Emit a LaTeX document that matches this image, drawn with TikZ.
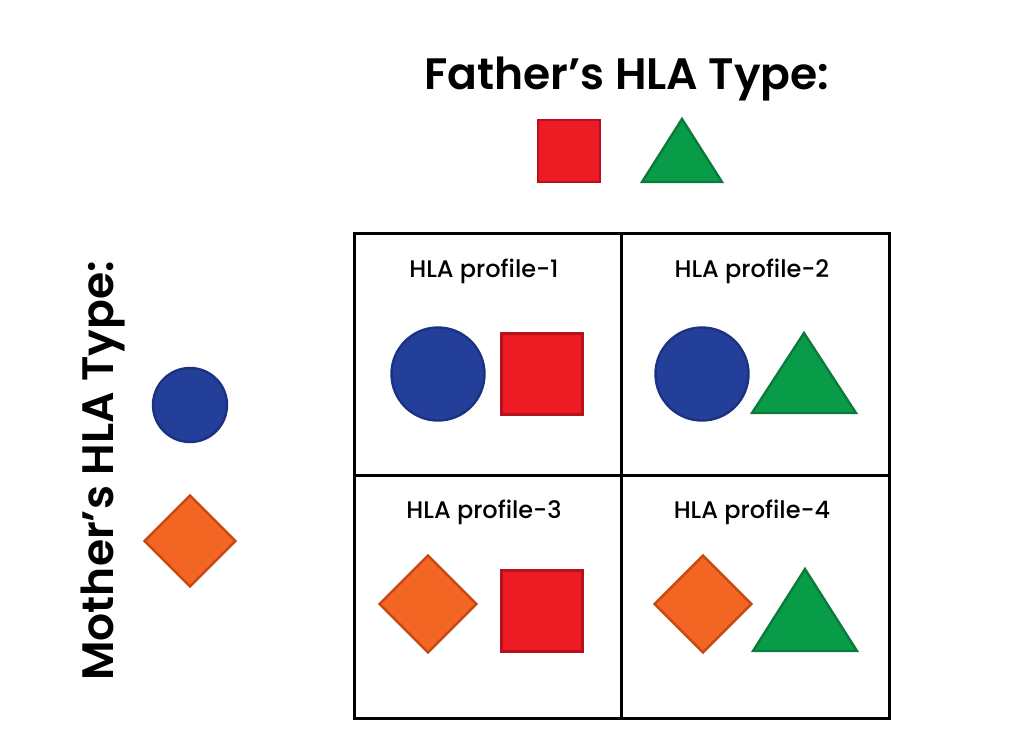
\documentclass[tikz,border=0pt]{standalone}
\usepackage{fontspec}
\setmainfont{Poppins}
\newfontfamily\hlasemibold{Poppins SemiBold}
\newfontfamily\hlamedium{Poppins Medium}
\usetikzlibrary{shapes.geometric}

\definecolor{hlablue}{HTML}{233F99}
\definecolor{hlablueline}{HTML}{1B3282}
\definecolor{hlared}{HTML}{ED1C24}
\definecolor{hlaredline}{HTML}{B5121B}
\definecolor{hlagreen}{HTML}{089C48}
\definecolor{hlagreenline}{HTML}{0B7A3A}
\definecolor{hlaorange}{HTML}{F26522}
\definecolor{hlaorangeline}{HTML}{C8460F}

\tikzset{
    ablue/.style={circle, fill=hlablue, draw=hlablueline, line width=1.2pt, inner sep=0pt},
    ared/.style={rectangle, fill=hlared, draw=hlaredline, line width=1.2pt, inner sep=0pt},
    agreen/.style={fill=hlagreen, draw=hlagreenline, line width=1.2pt, line join=miter},
    aorange/.style={diamond, aspect=1, fill=hlaorange, draw=hlaorangeline, line width=1.2pt, inner sep=0pt},
    heading/.style={font=\fontsize{22}{26}\selectfont\hlasemibold},
    profile/.style={font=\fontsize{12}{14}\selectfont\hlamedium}
}

\begin{document}
\begin{tikzpicture}[x=0.5pt, y=-0.5pt]
    \useasboundingbox (0, 0) rectangle (1024, 755);
    % father
    \node [heading] (father) at (627, 79) {Father’s HLA Type:};
    \node [ared, minimum size=31pt] (fsq) at (569, 151) {};
    \draw [agreen] (682, 119) -- (722, 182) -- (642, 182) -- cycle;
    % mother
    \node [heading, rotate=90] (mother) at (103, 471) {Mother’s HLA Type:};
    \node [ablue, minimum size=37pt] (mcirc) at (190, 405) {};
    \node [aorange, minimum size=46pt] (mdia) at (190, 541) {};
    % grid
    \draw [line width=1.5pt] (354, 233) rectangle (889, 718);
    \draw [line width=1.5pt] (621, 233) -- (621, 718);
    \draw [line width=1.5pt] (354, 475) -- (889, 475);
    % profile 1
    \node [profile] (p1) at (484, 271) {HLA profile-1};
    \node [ablue, minimum size=46.5pt] (c1) at (438, 374) {};
    \node [ared, minimum size=40.5pt] (s1) at (542, 374) {};
    % profile 2
    \node [profile] (p2) at (752, 271) {HLA profile-2};
    \node [ablue, minimum size=46.5pt] (c2) at (702, 374) {};
    \draw [agreen] (804, 333) -- (856, 413) -- (752, 413) -- cycle;
    % profile 3
    \node [profile] (p3) at (484, 512) {HLA profile-3};
    \node [aorange, minimum size=49pt] (d3) at (428, 604) {};
    \node [ared, minimum size=40.5pt] (s3) at (542, 611) {};
    % profile 4
    \node [profile] (p4) at (752, 512) {HLA profile-4};
    \node [aorange, minimum size=49pt] (d4) at (703, 604) {};
    \draw [agreen] (805, 569) -- (857, 651) -- (753, 651) -- cycle;
\end{tikzpicture}
\end{document}
